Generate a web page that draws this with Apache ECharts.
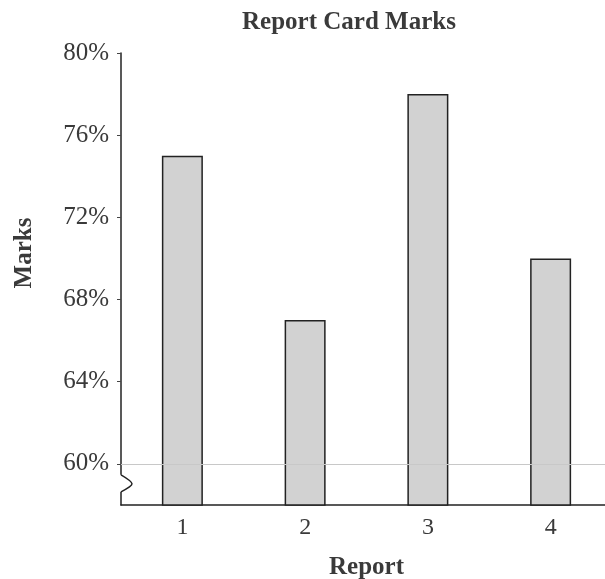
<!DOCTYPE html>
<html>
<head>
<meta charset="utf-8">
<script src="https://cdn.jsdelivr.net/npm/echarts@6/dist/echarts.min.js"></script>
<style>
html,body{margin:0;padding:0;background:#fff;}
#c{width:605px;height:579px;}
</style>
</head>
<body>
<div id="c"></div>
<script>
const categories = ['1', '2', '3', '4'];
const marks = [75, 67, 78, 70];
const yTicks = [60, 64, 68, 72, 76, 80];
const yMin = 58, yMax = 80;
const refLine = 60;
const breakPts = [59.47, 59.03, 58.64];

const serif = '"Liberation Serif", "DejaVu Serif", serif';
const txt = '#3a3a3a';
const chart = echarts.init(document.getElementById('c'));
chart.setOption({
  animation: false,
  backgroundColor: '#fff',
  title: {
    text: 'Report Card Marks',
    left: 237, top: 5,
    textStyle: { fontFamily: serif, fontWeight: 'bold', fontSize: 25, color: txt }
  },
  grid: { left: 121, width: 491, top: 53, bottom: 74, outerBoundsMode: 'none', containLabel: false },
  xAxis: {
    type: 'category',
    data: categories,
    name: 'Report',
    nameLocation: 'middle',
    nameGap: 50,
    nameTextStyle: { fontFamily: serif, fontWeight: 'bold', fontSize: 25, color: txt },
    axisLine: { lineStyle: { color: '#222', width: 1.5 } },
    axisTick: { show: false },
    axisLabel: { fontFamily: serif, fontSize: 24, color: txt, margin: 11 },
    splitLine: { show: false }
  },
  yAxis: {
    type: 'value',
    min: yMin, max: yMax,
    name: 'Marks',
    nameLocation: 'middle',
    nameGap: 84,
    nameRotate: 90,
    nameTextStyle: { fontFamily: serif, fontWeight: 'bold', fontSize: 25, color: txt, padding: [0, 0, 0, 52] },
    axisLine: { show: true, lineStyle: { color: '#222', width: 1.5 } },
    axisTick: { show: true, customValues: yTicks, length: 4, lineStyle: { color: '#444' } },
    axisLabel: { customValues: yTicks, formatter: v => v + '%', fontFamily: serif, fontSize: 25, color: txt, margin: 12 },
    splitLine: { show: false }
  },
  series: [{
    type: 'bar',
    data: marks,
    barWidth: 41,
    itemStyle: { color: '#d2d2d2', borderColor: '#222', borderWidth: 1.5 },
    markLine: {
      silent: true, symbol: 'none', label: { show: false },
      lineStyle: { color: '#c8c8c8', type: 'solid', width: 1.2 },
      data: [{ yAxis: refLine }]
    },
    z: 3
  }]
});

function drawBreak() {
  const p = breakPts.map(v => chart.convertToPixel({ gridIndex: 0 }, [categories[0], v])[1]);
  chart.setOption({
    graphic: [
      { type: 'line', shape: { x1: 121, y1: p[0], x2: 121, y2: p[2] }, style: { stroke: '#fff', lineWidth: 3 }, z: 100 },
      { type: 'polyline', shape: { points: [[121, p[0]], [132, p[1]], [121, p[2]]], smooth: 0.3 }, style: { stroke: '#222', lineWidth: 1.5, fill: null }, z: 101 }
    ]
  });
}
drawBreak();
</script>
</body>
</html>
